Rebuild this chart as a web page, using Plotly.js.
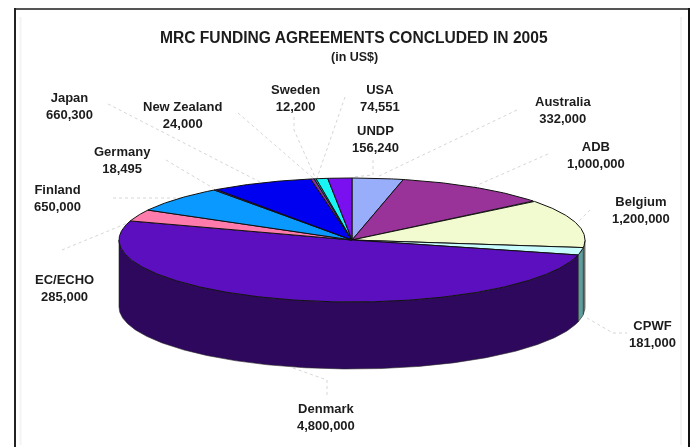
<!DOCTYPE html>
<html><head><meta charset="utf-8">
<script src="https://cdn.plot.ly/plotly-3.0.1.min.js"></script>
<style>html,body{margin:0;padding:0;background:#fff}#c{width:693px;height:447px;filter:blur(0.55px)}</style>
</head><body><div id="c"></div>
<script>
// Data, in drawing order clockwise from 12 o'clock
const categories = ["Australia","ADB","Belgium","CPWF","Denmark","EC/ECHO","Finland","Germany","Japan","New Zealand","Sweden","USA","UNDP"];
const amounts = [332000,1000000,1200000,181000,4800000,285000,650000,18495,660300,24000,12200,74551,156240];
const topColors = ["#99AEFA","#993399","#F2FBD0","#C8FBFB","#5B0FBE","#FF7BAC","#0A99FF","#8A3FB0","#0000F0","#8A2F9E","#00C8C8","#19F5F5","#7A0FF0"];
const sideColors = ["#5E6EA0","#5E205E","#8A8A80","#5F9E9E","#2E085C","#A04C6C","#065C9A","#50256A","#000090","#501C5E","#007878","#0E9090","#480990"];

// Pie geometry (pixel-scaled axes)
const cx = 352, cy = 240, rx = 233, ry = 62, depth = 67;

// Labels
const labelX = [563,596,641,652,326,64,57,122,69,183,295,380,375];
const labelY = [110,155,210,334,417,288,198,160,106,115,98,98,139];
// Leader lines, one per category
const leaders = [
 [[517,110],[377,177]],
 [[548,154],[473,187]],
 [[590,210],[577,223]],
 [[587,318],[613,333],[627,333]],
 [[293,368],[327,380],[327,395]],
 [[62,250],[130,222]],
 [[113,198],[183,198]],
 [[166,160],[213,188]],
 [[108,104],[260,182]],
 [[238,113],[313,178]],
 [[294,117],[294,130],[315,177]],
 [[345,97],[317,178]],
 [[373,160],[373,175],[352,177]]
];

const total = amounts.reduce((a,b)=>a+b,0);
const pt = (deg,dz=0)=>{const t=deg*Math.PI/180;return [cx+rx*Math.sin(t), cy-ry*Math.cos(t)+dz];};
const arc = (a,b,dz=0)=>{const out=[];const n=Math.max(2,Math.ceil((b-a)/0.5));for(let i=0;i<=n;i++)out.push(pt(a+(b-a)*i/n,dz));return out;};

const traces = [];
function poly(pts,fill,line,w){
  traces.push({type:"scatter",mode:"lines",x:pts.map(p=>p[0]),y:pts.map(p=>p[1]),fill:"toself",fillcolor:fill,
    line:{color:line,width:w},hoverinfo:"skip",showlegend:false});
}
// leader lines (behind the pie)
leaders.forEach(l=>traces.push({type:"scatter",mode:"lines",x:l.map(p=>p[0]),y:l.map(p=>p[1]),
  line:{color:"#d6d6d6",width:1,dash:"dot"},hoverinfo:"skip",showlegend:false}));

// slices
const spans=[];let acc=0;
amounts.forEach(v=>{const a=acc/total*360;acc+=v;spans.push([a,acc/total*360]);});
// side wall: only the front half (90..270 deg)
spans.forEach(([a,b],i)=>{
  const s=Math.max(a,90),e=Math.min(b,270);
  if(e>s){
    const pts=arc(s,e,0).concat(arc(s,e,depth).reverse());pts.push(pts[0]);
    poly(pts,sideColors[i],"#2a2a2a",0.6);
  }
});
// top faces
spans.forEach(([a,b],i)=>{
  const pts=[[cx,cy]].concat(arc(a,b,0));pts.push([cx,cy]);
  poly(pts,topColors[i],"#111",1);
});

const annotations = categories.map((c,i)=>({x:labelX[i],y:labelY[i],xref:"x",yref:"y",showarrow:false,
  text:c+"<br>"+amounts[i].toLocaleString("en-US"),align:"center",
  font:{family:"Liberation Sans, Arial, sans-serif",size:13,color:"#1c1c1c",weight:700}}));
annotations.push({x:354,y:37,xref:"x",yref:"y",showarrow:false,text:"<b>MRC FUNDING AGREEMENTS CONCLUDED IN 2005</b>",
  font:{family:"Liberation Sans, Arial, sans-serif",size:15.6,color:"#1c1c1c"}});
annotations.push({x:354,y:57,xref:"x",yref:"y",showarrow:false,text:"<b>(in US$)</b>",
  font:{family:"Liberation Sans, Arial, sans-serif",size:12.5,color:"#1c1c1c"}});

const seg=(x0,y0,x1,y1,color,width)=>({type:"line",xref:"x",yref:"y",x0,y0,x1,y1,line:{color,width},layer:"below"});
const hidden={visible:false,fixedrange:true};
Plotly.newPlot("c",traces,{
  width:693,height:447,margin:{l:0,r:0,t:0,b:0},paper_bgcolor:"#fff",plot_bgcolor:"#fff",showlegend:false,
  xaxis:Object.assign({range:[0,693]},hidden),yaxis:Object.assign({range:[447,0]},hidden),
  annotations,
  shapes:[
    seg(15,9,689,9,"#555",2),
    seg(15,8,15,447,"#222",2),
    seg(689,8,689,447,"#111",2),
    seg(20.5,17,20.5,445,"#f3f3f3",2),
    seg(681,17,681,445,"#f3f3f3",2)
  ]
},{staticPlot:true,displayModeBar:false});
</script></body></html>
